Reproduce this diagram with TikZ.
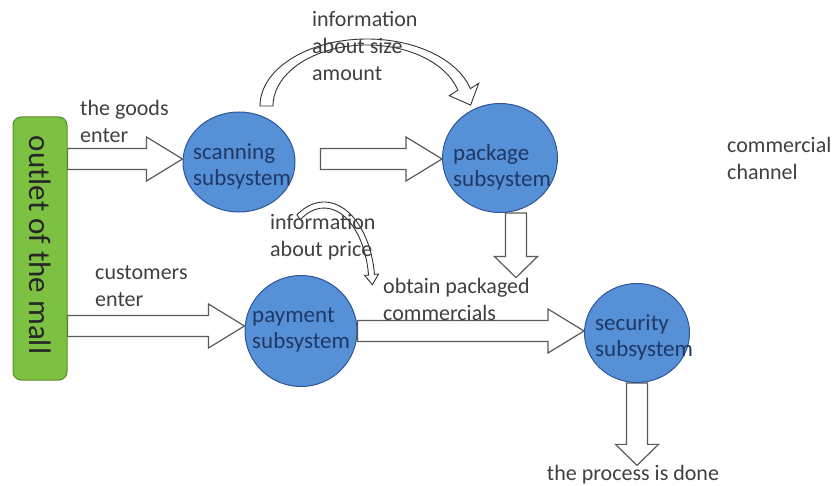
\documentclass[tikz,border=0pt]{standalone}
\usepackage{fontspec}
\setmainfont{Carlito}
\usetikzlibrary{shapes.geometric,calc}
\pgfdeclarelayer{background}
\pgfsetlayers{background,main}
\definecolor{mallgreen}{HTML}{7DC143}
\definecolor{mallgreendark}{HTML}{5B8C2A}
\definecolor{subblue}{HTML}{5690D6}
\definecolor{subblueline}{HTML}{2F5597}
\definecolor{subtextcol}{HTML}{1F3864}
\definecolor{labelgray}{HTML}{404040}
\definecolor{arrowgray}{HTML}{5A5A5A}
\tikzset{
  subsys/.style    = { ellipse, draw=subblueline, fill=subblue, line width=1pt, inner sep=0pt },
  subtext/.style   = { anchor=west, align=left, text=subtextcol, inner sep=0pt, font=\fontsize{23}{26}\selectfont },
  note/.style      = { anchor=west, align=left, text=labelgray, inner sep=0pt, font=\fontsize{22}{27}\selectfont },
  outletbox/.style = { rectangle, rounded corners=8pt, draw=mallgreendark, fill=mallgreen, line width=1pt,
                       minimum width=54pt, minimum height=263pt },
  harrow/.style    = { draw=arrowgray, fill=white, line width=1.2pt,
    to path={let \p1=(\tikztostart), \p2=(\tikztotarget) in
      (\x1,\y1+10.5pt) -- (\x2-36pt,\y1+10.5pt) -- (\x2-36pt,\y1+22pt) -- (\x2,\y1)
      -- (\x2-36pt,\y1-22pt) -- (\x2-36pt,\y1-10.5pt) -- (\x1,\y1-10.5pt) -- cycle} },
  varrow/.style    = { draw=arrowgray, fill=white, line width=1.2pt,
    to path={let \p1=(\tikztostart), \p2=(\tikztotarget) in
      (\x1-10.5pt,\y1) -- (\x1-10.5pt,\y2+21pt) -- (\x1-21.5pt,\y2+21pt) -- (\x1,\y2)
      -- (\x1+21.5pt,\y2+21pt) -- (\x1+10.5pt,\y2+21pt) -- (\x1+10.5pt,\y1) -- cycle} },
  bendarrow/.style = { draw=black!80, fill=white, line width=0.9pt }
}

\begin{document}
\begin{tikzpicture}[x=1pt,y=-1pt]
  \useasboundingbox (0,0) rectangle (834,486);

  % Outlet and subsystems
  \node[outletbox] (outlet) at (40,248.5) {};
  \node[rotate=-90, inner sep=0pt, text=black!85, font=\fontsize{31}{31}\selectfont] (outlettxt) at (40,245) {outlet of the mall};
  \node[subsys, minimum width=112pt, minimum height=100pt] (scan) at (239,162) {};
  \node[subsys, minimum width=115pt, minimum height=109pt] (pack) at (500,158) {};
  \node[subsys, minimum width=112pt, minimum height=111pt] (pay)  at (301,331) {};
  \node[subsys, minimum width=105pt, minimum height=99pt]  (sec)  at (637,333) {};
  \node[subtext] (scantxt) at (193,166) {scanning\\subsystem};
  \node[subtext] (packtxt) at (453,167) {package\\subsystem};
  \node[subtext] (paytxt)  at (252,330) {payment\\subsystem};
  \node[subtext] (sectxt)  at (595,337) {security\\subsystem};

  % Labels
  \node[note] (sizelbl)    at (312,46)  {information\\about size\\amount};
  \node[note] (goodslbl)   at (80,121)  {the goods\\enter};
  \node[note] (channellbl) at (727,158) {commercial\\channel};
  \node[note] (pricelbl)   at (270,237) {information\\about price};
  \node[note] (custlbl)    at (95,286)  {customers\\enter};
  \node[note] (obtainlbl)  at (383,299) {obtain packaged\\commercials};
  \node[note, anchor=center] (donelbl) at (633,475) {the process is done};

  \begin{pgfonlayer}{background}
  % Block arrows
  \coordinate (goodsin) at ([yshift=3pt]scan.west);
  \coordinate (custin)  at ([yshift=5pt]pay.west);
  \coordinate (packout) at ([xshift=16pt]pack.south);
  \draw[harrow] (outlet.east |- goodsin) to (goodsin);
  \draw[harrow] ([xshift=25pt,yshift=3pt]scan.east) to (pack.west);
  \draw[harrow] (outlet.east |- custin) to (custin);
  \draw[harrow] (pay.east) to (sec.west);
  \draw[varrow] (packout) to (packout |- obtainlbl.north);
  \draw[varrow] (sec.south) to (sec.south |- donelbl.north);

  % Bent arrows
  \coordinate (sizec)  at (367,106);
  \coordinate (pricec) at (324,286);
  \draw[bendarrow] (sizec) ++(180:107 and 67) arc[start angle=180, end angle=345, x radius=107, y radius=67]
    -- (478.7,83.3) -- (470.6,105.1) -- (449.3,95.7)
    -- ($(sizec)+(345:94 and 61)$) arc[start angle=345, end angle=180, x radius=94, y radius=61] -- cycle;
  \draw[bendarrow] (pricec) ++(238:51 and 84) arc[start angle=238, end angle=352, x radius=51, y radius=84]
    -- (378.5,274.1) -- (372.4,284.7) -- (364.5,275.3)
    -- ($(pricec)+(352:45 and 78)$) arc[start angle=352, end angle=238, x radius=45, y radius=78] -- cycle;
  \end{pgfonlayer}
\end{tikzpicture}
\end{document}
